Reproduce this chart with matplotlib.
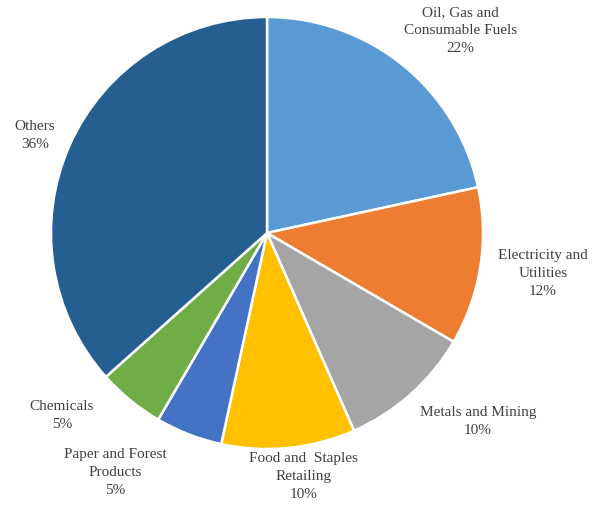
import matplotlib
matplotlib.use("Agg")
import matplotlib.pyplot as plt

categories = ["Oil, Gas and\nConsumable Fuels", "Electricity and\nUtilities", "Metals and Mining",
              "Food and  Staples\nRetailing", "Paper and Forest\nProducts", "Chemicals", "Others"]
values = [21.6, 11.8, 10.0, 10.0, 5.0, 5.0, 36.6]
pct_labels = ["22%", "12%", "10%", "10%", "5%", "5%", "36%"]
colors = ["#5B9BD5", "#ED7D31", "#A5A5A5", "#FFC000", "#4472C4", "#70AD47", "#255E91"]
label_xy = [(0.894, 0.940), (1.278, -0.181), (0.977, -0.870), (0.171, -1.125),
            (-0.704, -1.102), (-0.949, -0.838), (-1.074, 0.458)]

fig = plt.figure(figsize=(5.92, 5.06), dpi=100)
ax = fig.add_axes([0, 0, 1, 1])
ax.pie(values, colors=colors, startangle=90, counterclock=False, radius=1.0,
       wedgeprops=dict(edgecolor="white", linewidth=1.8))
for cat, pct, (x, y) in zip(categories, pct_labels, label_xy):
    ax.text(x, y, f"{cat}\n{pct}", ha="center", va="center", fontsize=11,
            family="Liberation Serif", color="#404040", linespacing=1.5)
ax.set_xlim(-267/216, (592-267)/216)
ax.set_ylim(-(506-234)/216, 234/216)
ax.set_aspect("auto")
ax.axis("off")
fig.savefig("out.png", dpi=100)
